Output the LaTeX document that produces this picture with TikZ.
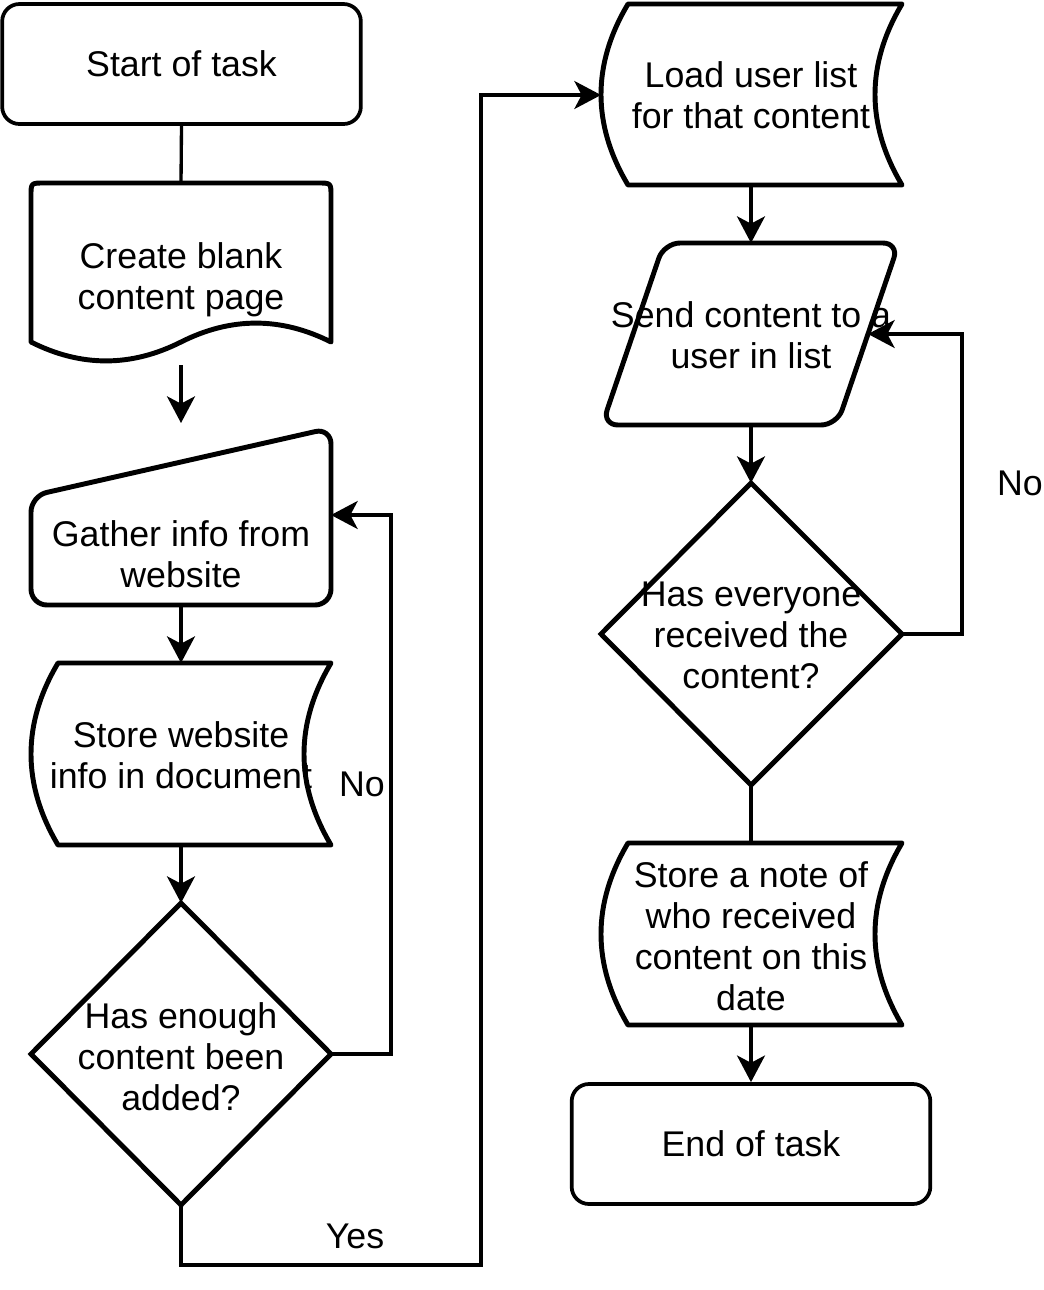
\documentclass[tikz,border=0pt]{standalone}
\usepackage{fontspec}
\setmainfont{Liberation Sans}
\usetikzlibrary{arrows.meta}
\newcommand\stdatashape[4]{%
  \draw[shapeline] ({#1+27},#2) -- ({#1+#3},#2)
    .. controls ({#1+#3-36},{#2+#4/3}) and ({#1+#3-36},{#2+2*#4/3}) .. ({#1+#3},{#2+#4})
    -- ({#1+27},{#2+#4})
    .. controls ({#1-9},{#2+2*#4/3}) and ({#1-9},{#2+#4/3}) .. ({#1+27},#2) -- cycle;}
\begin{document}
\begin{tikzpicture}[x=0.75pt,y=-0.75pt,
  shapeline/.style={line width=3.7pt, line join=round},
  diamline/.style={line width=3.7pt, line join=miter},
  termbox/.style={draw, line width=2.8pt, rounded corners=13pt, minimum width=269pt, minimum height=90pt},
  lbl/.style={align=center, inner sep=0pt, font=\fontsize{26.8}{30.75}\selectfont},
  conn/.style={line width=2.5pt},
  arr/.style={conn, -{Stealth[length=20pt,width=21pt,inset=5.5pt]}}]
\useasboundingbox (0,0) rectangle (1044,1290);

% terminals
\node[termbox, lbl] (start) at (181.5,64) {Start of task};
\node[termbox, lbl] (end) at (751,1144) {End of task};

% document shape
\draw[shapeline] (31,342) -- (31,196) .. controls (31,183) .. (44,183) -- (318,183)
  .. controls (331,183) .. (331,196) -- (331,342)
  .. controls (281,316.8) and (231,316.8) .. (181,342)
  .. controls (131,367.2) and (81,367.2) .. (31,342) -- cycle;
\node[lbl] (doc) at (181,279.5) {Create blank\\content page};
\coordinate (doc-n) at (181,183);
\coordinate (doc-s) at (181,365);

% manual input
\draw[shapeline, rounded corners=12pt] (181,605) -- (31,605) -- (31,496) -- (331,428) -- (331,605) -- cycle;
\node[lbl] (gather) at (181,554) {Gather info from\\website};
\coordinate (gather-top) at (181,423);
\coordinate (gather-s) at (181,605);
\coordinate (gather-e) at (331,515);

% stored data: website
\stdatashape{31}{663}{300}{182}
\node[lbl] (storeweb) at (181,755) {Store website\\info in document};
\coordinate (storeweb-n) at (181,663);
\coordinate (storeweb-s) at (181,845);

% decision 1
\draw[diamline] (181,903) -- (331,1054) -- (181,1205) -- (31,1054) -- cycle;
\node[lbl] (dec1) at (181,1056.5) {Has enough\\content been\\added?};
\coordinate (dec1-n) at (181,903);
\coordinate (dec1-e) at (331,1054);
\coordinate (dec1-s) at (181,1205);

% stored data: load user list
\stdatashape{601}{4}{301}{181}
\node[lbl] (load) at (751,95.5) {Load user list\\for that content};
\coordinate (load-w) at (601,95);
\coordinate (load-s) at (751,185);

% parallelogram
\draw[shapeline, rounded corners=12pt] (750,425) -- (602,425) -- (664,243) -- (899,243) -- (837,425) -- cycle;
\node[lbl] (send) at (751,335) {Send content to a\\user in list};
\coordinate (send-n) at (751,243);
\coordinate (send-s) at (751,425);
\coordinate (send-e) at (868,334);

% decision 2
\draw[diamline] (751,483) -- (902,634) -- (751,785) -- (601,634) -- cycle;
\node[lbl] (dec2) at (751,635) {Has everyone\\received the\\content?};
\coordinate (dec2-n) at (751,483);
\coordinate (dec2-e) at (902,634);
\coordinate (dec2-s) at (751,785);

% stored data: note
\stdatashape{601}{843}{301}{182}
\node[lbl] (note) at (751,936.5) {Store a note of\\who received\\content on this\\date};
\coordinate (note-n) at (751,843);
\coordinate (note-s) at (751,1025);

% labels
\node[lbl] (no1) at (362,784) {No};
\node[lbl] (no2) at (1020,483) {No};
\node[lbl] (yes) at (355,1236) {Yes};

% connectors
\draw[conn] (start.south) -- (doc-n);
\draw[arr] (doc-s) -- (gather-top);
\draw[arr] (gather-s) -- (storeweb-n);
\draw[arr] (storeweb-s) -- (dec1-n);
\draw[arr] (dec1-e) -- (391,1054) -- (391,515) -- (gather-e);
\draw[arr] (dec1-s) -- (181,1265) -- (481,1265) -- (481,95) -- (load-w);
\draw[arr] (load-s) -- (send-n);
\draw[arr] (send-s) -- (dec2-n);
\draw[arr] (dec2-e) -- (962,634) -- (962,334) -- (send-e);
\draw[conn] (dec2-s) -- (note-n);
\draw[arr] (note-s) -- (end.north);
\end{tikzpicture}
\end{document}
